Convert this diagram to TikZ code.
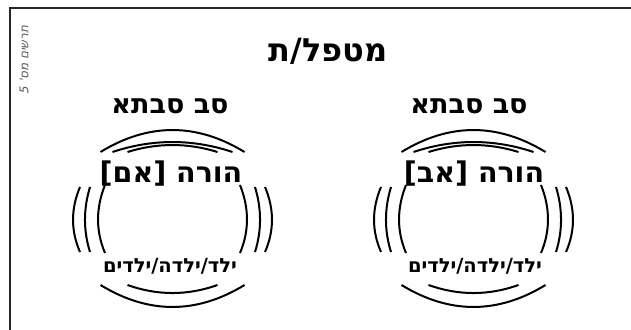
\documentclass[tikz,border=0pt]{standalone}
\usepackage{fontspec}
\setmainfont{DejaVu Sans}
\newfontfamily\hebfont[Script=Hebrew]{DejaVu Sans}
\newfontfamily\hebnote[Script=Hebrew,FakeSlant=0.2]{DejaVu Sans}
\TeXXeTstate=1

\begin{document}
\begin{tikzpicture}[x=1pt,y=-1pt,
  title/.style={font=\hebfont\bfseries\fontsize{32}{32}\selectfont,inner sep=0pt,anchor=base},
  grand/.style={font=\hebfont\bfseries\fontsize{27}{27}\selectfont,inner sep=0pt,anchor=base},
  parent/.style={font=\hebfont\bfseries\fontsize{28.5}{28.5}\selectfont,inner sep=0pt,anchor=base},
  child/.style={font=\hebfont\bfseries\fontsize{19.5}{19.5}\selectfont,inner sep=0pt,anchor=base},
  note/.style={font=\hebnote\fontsize{12}{12}\selectfont,text=black!65,inner sep=0pt},
  ring/.style={line width=2pt},
  frame/.style={line width=1.2pt,draw=black!85}
]
\useasboundingbox (0,0) rectangle (631,329);

\draw[frame] (640,8) -- (10,8) -- (10,340);
\node[note,rotate=90] (fig) at (24,60) {\beginR תרשים מס' 5\endR};

\node[title] (carer) at (328,62) {\beginR מטפל/ת\endR};

\node[grand] (grandL) at (170,113) {\beginR סב סבתא\endR};
\node[parent] (parentL) at (171,182) {\beginR הורה [אם]\endR};
\node[child] (childL) at (170,272) {\beginR ילד/ילדה/ילדים\endR};

\node[grand] (grandR) at (469,113) {\beginR סב סבתא\endR};
\node[parent] (parentR) at (474,182) {\beginR הורה [אב]\endR};
\node[child] (childR) at (475,272) {\beginR ילד/ילדה/ילדים\endR};

% three rings round each parent
\foreach \cx in {172.5,473.5}{
  \begin{scope}[shift={(\cx,0)}]
    \draw[ring] (-72,152) .. controls (-24,122.7) and (24,122.7) .. (72,152);
    \draw[ring] (-60,152) .. controls (-20,138.7) and (20,138.7) .. (60,152);
    \draw[ring] (-45,152) .. controls (-15,142.7) and (15,142.7) .. (45,152);
    \draw[ring] (-92.5,187) .. controls (-101.8,209) and (-101.8,230.7) .. (-92.5,252);
    \draw[ring] (-82.5,187) .. controls (-89.2,209) and (-89.2,230.7) .. (-82.5,252);
    \draw[ring] (-67.5,185) .. controls (-76.8,208.3) and (-76.8,231) .. (-67.5,253);
    \draw[ring] (92.5,187) .. controls (101.8,209) and (101.8,230.7) .. (92.5,252);
    \draw[ring] (82.5,187) .. controls (89.2,209) and (89.2,230.7) .. (82.5,252);
    \draw[ring] (67.5,185) .. controls (76.8,208.3) and (76.8,231) .. (67.5,253);
    \draw[ring] (-72,285) .. controls (-24,314.3) and (24,314.3) .. (72,285);
    \draw[ring] (-45,285) .. controls (-15,295.7) and (15,295.7) .. (45,285);
  \end{scope}
}
\end{tikzpicture}
\end{document}
